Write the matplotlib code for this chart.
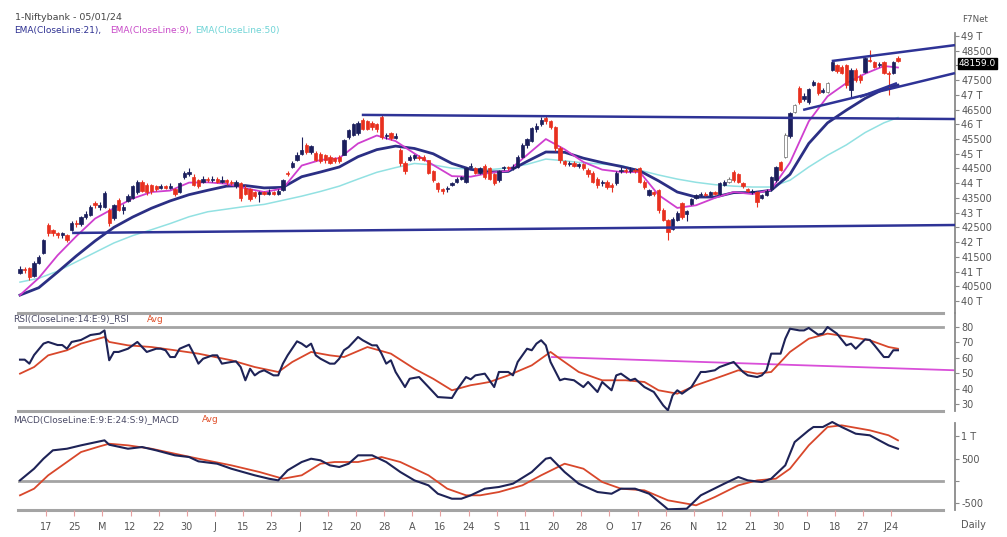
import numpy as np
import matplotlib
matplotlib.use("Agg")
import matplotlib.pyplot as plt

plt.rcParams['font.family'] = ['DejaVu Sans']

# ------------------------------------------------------------------ data
opens = [40950, 41080, 41120, 40850, 41300, 41630, 42580, 42400, 42300, 42250,
         42240, 42400, 42650, 42600, 42850, 42920, 43330, 43200, 43190, 43090,
         42820, 43430, 43100, 43400, 43500, 43700, 44040, 43950, 43950, 43900,
         43850, 43900, 43850, 43800, 43700, 44200, 44300, 44210, 44100, 44050,
         44150, 44100, 44150, 44050, 44100, 44050, 43900, 44000, 43850, 43800,
         43700, 43650, 43700, 43650, 43700, 43650, 43770, 44350, 44550, 44800,
         45000, 45300, 45050, 45030, 45000, 44950, 44900, 44850, 44900, 44960,
         45570, 45650, 45700, 46150, 46100, 46050, 46000, 46250, 45600, 45700,
         45550, 45130, 44700, 44800, 44850, 44900, 44900, 44790, 44400, 44000,
         43800, 43800, 43950, 44050, 44150, 44040, 44550, 44500, 44350, 44600,
         44500, 44300, 44100, 44500, 44550, 44500, 44550, 44900, 45300, 45450,
         45850, 46000, 46200, 46100, 45900, 45200, 44750, 44650, 44700, 44600,
         44650, 44450, 44350, 44150, 44000, 44050, 43950, 44000, 44400, 44450,
         44400, 44450, 44520, 44050, 43600, 43700, 43770, 43100, 42750, 42450,
         42750, 43330, 42950, 43300, 43500, 43600, 43650, 43600, 43700, 43650,
         43950, 44050, 44380, 44300, 44000, 43800, 43700, 43700, 43500, 43600,
         43800, 44100, 44720, 44900, 45600, 46420, 47230, 46850, 46760, 47350,
         47400, 47100, 47100, 47850, 48000, 47950, 48000, 47170, 47850, 47650,
         47780, 48200, 48100, 48000, 48120, 47750, 47750, 48250]
highs = [41200, 41150, 41150, 41350, 41560, 42120, 42650, 42450, 42350, 42350,
         42280, 42700, 42750, 42900, 43050, 43250, 43400, 43350, 43720, 43150,
         43300, 43500, 43300, 43650, 43950, 44100, 44100, 44000, 43980, 43950,
         43980, 43950, 44000, 43850, 44050, 44400, 44500, 44300, 44150, 44250,
         44200, 44250, 44200, 44250, 44150, 44100, 44100, 44050, 43950, 43850,
         43750, 43750, 43750, 43800, 43750, 43800, 44150, 44400, 44750, 45050,
         45570, 45350, 45300, 45100, 45050, 45000, 44950, 44900, 44950, 45500,
         45850, 46050, 46100, 46200, 46150, 46100, 46050, 46300, 45700, 45750,
         45700, 45200, 44750, 44950, 45000, 44950, 44950, 44800, 44450, 44050,
         43850, 43900, 44050, 44200, 44250, 44550, 44700, 44550, 44550, 44650,
         44550, 44350, 44450, 44600, 44600, 44650, 44950, 45350, 45550, 45900,
         46050, 46250, 46300, 46150, 45950, 45250, 44800, 44750, 44750, 44700,
         44700, 44500, 44400, 44200, 44100, 44100, 44000, 44400, 44550, 44500,
         44550, 44520, 44550, 44100, 43800, 43750, 43800, 43150, 42800, 42850,
         43050, 43350, 43100, 43500, 43650, 43700, 43700, 43750, 43750, 44050,
         44100, 44200, 44450, 44350, 44050, 43850, 43800, 43750, 43650, 43800,
         44250, 44600, 44750, 45700, 46420, 46700, 47300, 47050, 47250, 47500,
         47450, 47250, 47450, 48200, 48050, 48000, 48050, 47900, 47900, 47700,
         48300, 48520, 48150, 48100, 48150, 47800, 48150, 48330]
lows = [40900, 40950, 40720, 40820, 41250, 41600, 42200, 42200, 42150, 42150,
        42000, 42380, 42500, 42550, 42800, 42880, 43150, 43100, 43150, 42550,
        42750, 43050, 42950, 43350, 43450, 43650, 43700, 43600, 43650, 43750,
        43800, 43800, 43800, 43550, 43680, 44150, 44250, 43900, 43850, 44000,
        44050, 44050, 44000, 44000, 43950, 43950, 43850, 43400, 43600, 43400,
        43500, 43350, 43600, 43600, 43600, 43600, 43750, 44250, 44500, 44750,
        44950, 45000, 45000, 44750, 44700, 44700, 44650, 44700, 44700, 44950,
        45500, 45600, 45650, 45800, 45800, 45800, 45750, 45500, 45500, 45470,
        45500, 44600, 44300, 44750, 44800, 44800, 44750, 44300, 44050, 43700,
        43650, 43700, 43900, 44000, 44100, 44000, 44500, 44300, 44300, 44150,
        44100, 43950, 44050, 44450, 44450, 44450, 44500, 44850, 45200, 45400,
        45750, 45950, 46000, 45850, 45100, 44700, 44600, 44600, 44550, 44500,
        44450, 44200, 44000, 43850, 43900, 43800, 43700, 43950, 44350, 44350,
        44350, 44350, 44000, 43800, 43550, 43550, 43000, 42700, 42070, 42400,
        42700, 42800, 42700, 43250, 43450, 43550, 43550, 43550, 43600, 43600,
        43900, 44000, 44050, 44000, 43850, 43700, 43650, 43200, 43450, 43550,
        43750, 44050, 44400, 44850, 45550, 46400, 46700, 46800, 46700, 47300,
        47000, 47050, 47050, 47800, 47750, 47700, 47250, 46920, 47450, 47400,
        47750, 48100, 47900, 47950, 47700, 47000, 47700, 48100]
closes = [41080, 41050, 40800, 41300, 41500, 42070, 42300, 42300, 42250, 42300,
          42080, 42650, 42600, 42850, 42950, 43190, 43250, 43250, 43670, 42650,
          43260, 43090, 43200, 43550, 43900, 44040, 43750, 43700, 43750, 43800,
          43900, 43850, 43900, 43650, 44000, 44350, 44380, 43950, 43900, 44150,
          44100, 44150, 44050, 44100, 44050, 44000, 44050, 43500, 43650, 43450,
          43550, 43700, 43650, 43700, 43650, 43750, 44100, 44300, 44690, 44950,
          45130, 45060, 45250, 44800, 44750, 44800, 44700, 44750, 44750, 45470,
          45800, 46000, 46040, 45850, 45850, 45900, 45850, 45570, 45650, 45550,
          45600, 44700, 44400, 44900, 44950, 44850, 44800, 44350, 44100, 43800,
          43750, 43850, 44000, 44150, 44200, 44520, 44600, 44350, 44500, 44200,
          44150, 44000, 44400, 44550, 44500, 44550, 44900, 45300, 45500, 45870,
          45950, 46150, 46100, 45900, 45200, 44800, 44650, 44700, 44600, 44650,
          44500, 44300, 44050, 43950, 44050, 43870, 43870, 44350, 44450, 44400,
          44450, 44400, 44050, 43870, 43770, 43650, 43100, 42750, 42350, 42800,
          43000, 42850, 43050, 43450, 43600, 43650, 43600, 43700, 43650, 44000,
          44050, 44150, 44100, 44050, 43900, 43750, 43750, 43350, 43600, 43750,
          44200, 44550, 44450, 45650, 46380, 46650, 46760, 46950, 47200, 47450,
          47060, 47150, 47400, 48120, 47800, 47750, 47330, 47850, 47500, 47500,
          48250, 48150, 47950, 48050, 47740, 47700, 48120, 48159]
hollow_bars = [151, 163, 165, 172]
last_price = 48159.0

ema_bars = list(range(0, 185, 4)) + [187]
ema21 = [40200, 40450, 40980, 41530, 42040, 42500, 42850, 43150, 43400, 43610,
         43760, 43900, 43920, 43840, 43860, 44220, 44380, 44550, 44900, 45140,
         45260, 45180, 45000, 44670, 44470, 44380, 44400, 44740, 45060, 45050,
         44850, 44700, 44570, 44420, 44080, 43700, 43530, 43530, 43680, 43680,
         43760, 44300, 45350, 46050, 46480, 46880, 47200, 47330]
ema9 = [40200, 40780, 41550, 42200, 42800, 43150, 43480, 43700, 43750, 44020,
        44030, 43980, 43830, 43700, 43820, 44600, 44790, 44850, 45350, 45620,
        45430, 45010, 44620, 44240, 44220, 44350, 44420, 44960, 45500, 45150,
        44720, 44460, 44380, 44380, 43600, 43160, 43250, 43500, 43700, 43630,
        43780, 44700, 46100, 46950, 47400, 47720, 47980, 47930]
ema50 = [40640, 40770, 41010, 41330, 41650, 41970, 42220, 42420, 42630, 42860,
         43030, 43120, 43210, 43280, 43420, 43560, 43720, 43900, 44140, 44370,
         44530, 44670, 44620, 44510, 44480, 44460, 44520, 44640, 44820, 44760,
         44690, 44650, 44600, 44440, 44280, 44140, 44030, 43950, 43900, 43870,
         43870, 44100, 44550, 44950, 45300, 45720, 46050, 46230]

# drawn trend lines (bar index, price)
support_bars, support_vals = [11.1, 199.15], [42310, 42580]
resist_bars, resist_vals = [72.8, 199.15], [46320, 46180]
chan_top_bars, chan_top_vals = [172.9, 199.15], [48150, 48690]
chan_bot_bars, chan_bot_vals = [166.8, 199.15], [46490, 47740]
chan_mid_bars, chan_mid_vals = [178.9, 186.8], [46930, 47400]

date_labels = ["17", "25", "M", "12", "22", "30", "J", "15", "23", "J", "12",
               "20", "28", "A", "16", "24", "S", "11", "20", "28", "O", "17",
               "26", "N", "12", "21", "30", "D", "18", "27", "J24"]

rsi_bars = [0, 1, 2, 3, 5, 6, 8, 9, 10, 11, 13, 15, 17, 18, 19, 20, 21, 23, 25, 26,
            27, 29, 30, 31, 32, 33, 34, 36, 37, 38, 39, 41, 42, 43, 45, 46, 47, 48, 49, 50,
            51, 52, 54, 55, 56, 57, 59, 60, 61, 62, 63, 64, 66, 67, 68, 69, 70, 72, 73, 75,
            76, 77, 78, 79, 80, 82, 83, 85, 86, 88, 89, 92, 93, 95, 96, 97, 99, 100, 101, 102,
            104, 105, 106, 108, 109, 110, 111, 112, 113, 115, 116, 118, 120, 121, 123, 124, 126, 127, 128, 130,
            131, 133, 135, 136, 137, 138, 139, 140, 141, 143, 145, 146, 148, 149, 151, 152, 153, 154, 155, 157,
            158, 159, 160, 162, 163, 164, 166, 167, 168, 170, 171, 172, 174, 176, 177, 178, 180, 181, 182, 184,
            185, 186, 187]
rsi_vals = [58.8, 58.8, 56.2, 61.8, 69.2, 70.3, 68.3, 68.3, 65.9, 70.3, 71.6, 74.8, 75.7, 77.8, 58.4, 63.8, 63.8, 65.9, 70.3, 67.0,
            63.8, 65.9, 65.9, 64.9, 60.5, 60.5, 65.9, 68.5, 62.7, 56.2, 59.4, 61.6, 61.6, 56.2, 57.3, 57.7, 54.0, 45.4, 52.9, 48.6,
            50.8, 51.9, 48.6, 48.6, 56.2, 61.6, 70.7, 69.2, 67.0, 69.2, 61.6, 59.4, 56.2, 56.2, 59.4, 64.9, 67.0, 73.5, 71.4, 68.1,
            68.1, 62.7, 56.2, 58.4, 50.8, 41.0, 46.4, 47.5, 44.3, 37.8, 34.5, 33.9, 38.9, 47.5, 46.0, 48.6, 49.7, 45.4, 41.0, 50.8,
            50.8, 48.6, 57.3, 65.9, 64.9, 69.2, 71.4, 68.1, 57.3, 45.4, 46.4, 45.4, 41.0, 44.3, 37.8, 44.3, 38.9, 48.6, 49.7, 45.4,
            46.4, 41.0, 37.8, 33.4, 29.1, 25.9, 35.6, 38.9, 36.7, 41.0, 50.8, 50.8, 51.9, 54.0, 56.2, 57.3, 54.0, 50.8, 48.6, 47.5,
            48.6, 51.9, 62.7, 62.7, 72.4, 78.9, 77.8, 77.8, 79.4, 75.0, 75.7, 80.0, 75.7, 68.1, 69.2, 65.9, 72.0, 71.6, 68.1, 60.5,
            60.5, 64.9, 64.9]
rsi_avg_bars = [0, 3, 6, 10, 13, 18, 19, 23, 28, 33, 38, 45, 50, 55, 58, 62, 66, 69, 74, 79,
                84, 88, 92, 96, 98, 100, 104, 109, 113, 115, 119, 124, 129, 133, 136, 140, 144, 150, 153, 157,
                160, 164, 168, 172, 177, 181, 185, 187]
rsi_avg_vals = [49.7, 54.0, 61.6, 64.9, 69.2, 73.5, 70.3, 68.1, 67.0, 64.9, 62.7, 58.4, 54.0, 50.8, 57.3, 63.8, 61.6, 60.5, 67.0, 62.7,
                52.9, 46.4, 38.9, 42.2, 43.2, 44.3, 48.6, 55.1, 63.8, 59.4, 50.8, 45.4, 45.4, 44.3, 38.9, 36.7, 42.2, 48.6, 51.9, 49.7,
                50.8, 63.8, 72.4, 75.7, 73.5, 71.4, 67.0, 65.9]
rsi_trend_bars, rsi_trend_vals = [113.3, 199.15], [60.5, 51.9]

macd_bars = [0, 3, 5, 7, 10, 13, 17, 18, 19, 23, 26, 29, 33, 36, 38, 42, 45, 50, 53, 55,
             57, 60, 62, 64, 66, 68, 70, 72, 75, 78, 81, 84, 87, 89, 92, 94, 96, 99, 102, 105,
             109, 112, 113, 116, 119, 123, 126, 128, 131, 134, 137, 138, 142, 145, 150, 153, 155, 158, 160, 163,
             165, 168, 169, 171, 173, 175, 178, 181, 183, 185, 187]
macd_vals = [15, 276, 500, 688, 724, 800, 890, 912, 814, 724, 762, 688, 576, 538, 441, 388, 276, 128, 52, 15,
             240, 426, 500, 464, 352, 314, 388, 576, 576, 426, 202, 15, -97, -285, -397, -397, -321, -172, -134, -60,
             202, 500, 522, 202, -60, -247, -285, -172, -172, -285, -545, -635, -621, -321, -60, 90, 15, -22, 52, 352,
             874, 1137, 1211, 1211, 1323, 1211, 1061, 1025, 912, 800, 724]
macd_sig_bars = [0, 3, 6, 10, 13, 17, 19, 23, 28, 33, 38, 45, 51, 56, 60, 64, 67, 72, 77, 81,
                 87, 91, 95, 98, 102, 107, 111, 116, 120, 124, 128, 133, 138, 144, 148, 153, 157, 161, 164, 168,
                 172, 175, 181, 185, 187]
macd_sig_vals = [-321, -172, 128, 426, 650, 778, 836, 800, 724, 612, 500, 352, 202, 52, 128, 388, 426, 426, 538, 426,
                 128, -172, -321, -321, -247, -97, 128, 388, 276, -22, -172, -209, -433, -545, -359, -97, 15, 52, 276, 800,
                 1211, 1249, 1137, 1025, 912]

assert len(opens) == len(highs) == len(lows) == len(closes)
assert len(ema_bars) == len(ema21) == len(ema9) == len(ema50)
assert len(rsi_bars) == len(rsi_vals) and len(rsi_avg_bars) == len(rsi_avg_vals)
assert len(macd_bars) == len(macd_vals) and len(macd_sig_bars) == len(macd_sig_vals)

# ------------------------------------------------------------------ layout
W, H = 1007, 537
fig = plt.figure(figsize=(W / 100, H / 100), dpi=100)
fig.patch.set_facecolor('white')


def px_rect(l, t, r, b):
    return [l / W, 1 - b / H, (r - l) / W, (b - t) / H]


BAR0_PX, BAR_STEP_PX = 20.0, 4.695
XL, XR = 18, 955
xlim = ((XL - BAR0_PX) / BAR_STEP_PX, (XR - BAR0_PX) / BAR_STEP_PX)
line_frac = (943 - XL) / (XR - XL)

ax_p = fig.add_axes(px_rect(XL, 33, XR, 313))
ax_r = fig.add_axes(px_rect(XL, 313, XR, 411))
ax_m = fig.add_axes(px_rect(XL, 411, XR, 510))

GRID = '#a4a4a4'
SPINE = '#8a8a8a'
TXT = '#555555'


def style(ax):
    ax.set_xlim(*xlim)
    for s in ['top', 'left', 'bottom']:
        ax.spines[s].set_visible(False)
    ax.spines['right'].set_color(SPINE)
    ax.spines['right'].set_linewidth(1.3)
    ax.yaxis.tick_right()
    ax.tick_params(axis='y', direction='out', length=3, width=0.8, colors=SPINE,
                   labelcolor=TXT, labelsize=7, pad=1.5)
    ax.tick_params(axis='x', bottom=False, labelbottom=False)
    ax.set_facecolor('none')


for a in (ax_p, ax_r, ax_m):
    style(a)

# ------------------------------------------------------------------ price panel
P_LO, P_HI = 39591, 49102
ax_p.set_ylim(P_LO, P_HI)
o = np.array(opens, float); h = np.array(highs, float)
l = np.array(lows, float); c = np.array(closes, float)
x = np.arange(len(c))
RED, DARK = '#e8301f', '#1b1f5c'
face, edge, wick = [], [], []
for i in range(len(c)):
    if i in hollow_bars:
        face.append('white'); edge.append('#707070'); wick.append('#707070')
    elif c[i] >= o[i]:
        face.append(DARK); edge.append(DARK); wick.append(DARK)
    else:
        face.append(RED); edge.append(RED); wick.append(RED)

ax_p.plot(ema_bars, ema50, color='#92e1e2', lw=1.1, zorder=2)
ax_p.plot(ema_bars, ema21, color='#2b2f84', lw=2.0, zorder=2)
ax_p.plot(ema_bars, ema9, color='#cf3fcf', lw=1.3, zorder=2)

ax_p.vlines(x, l, h, colors=wick, lw=0.8, zorder=3)
body_lo = np.minimum(o, c)
body_h = np.maximum(np.abs(c - o), 18)
ax_p.bar(x, body_h, bottom=body_lo, width=0.7, color=face, edgecolor=edge,
         linewidth=0.5, zorder=4)

TREND = '#2e3396'
for bx, by in [(support_bars, support_vals), (resist_bars, resist_vals),
               (chan_top_bars, chan_top_vals), (chan_bot_bars, chan_bot_vals),
               (chan_mid_bars, chan_mid_vals)]:
    ax_p.plot(bx, by, color=TREND, lw=1.8, zorder=6, clip_on=False,
              solid_capstyle='butt')

price_ticks = list(range(40000, 49001, 500))
ax_p.set_yticks(price_ticks)
# the 48 T label sits under the last-price box, as in the reference
ax_p.set_yticklabels(['' if v == 48000 else (f"{v // 1000} T" if v % 1000 == 0 else f"{v}")
                      for v in price_ticks])
ax_p.axhline(P_LO, xmax=line_frac, color=GRID, lw=2.2, clip_on=False, zorder=1)

# ------------------------------------------------------------------ RSI panel
R_LO, R_HI = 25.45, 89.1
ax_r.set_ylim(R_LO, R_HI)
ax_r.axhline(80, xmax=line_frac, color=GRID, lw=2.0, zorder=1)
ax_r.axhline(R_LO, xmax=line_frac, color=GRID, lw=2.2, clip_on=False, zorder=1)
ax_r.plot(rsi_trend_bars, rsi_trend_vals, color='#d94fd9', lw=1.3, zorder=2)
ax_r.plot(rsi_avg_bars, rsi_avg_vals, color='#d8472b', lw=1.3, zorder=3)
ax_r.plot(rsi_bars, rsi_vals, color='#1e2357', lw=1.5, zorder=4)
ax_r.set_yticks([30, 40, 50, 60, 70, 80])

# ------------------------------------------------------------------ MACD panel
M_LO, M_HI = -650, 1570
ax_m.set_ylim(M_LO, M_HI)
ax_m.spines['right'].set_bounds(M_LO, 1300)
ax_m.axhline(0, xmax=line_frac, color=GRID, lw=2.0, zorder=1)
ax_m.axhline(M_LO, xmax=line_frac, color=GRID, lw=2.2, clip_on=False, zorder=1)
ax_m.plot(macd_sig_bars, macd_sig_vals, color='#d8472b', lw=1.3, zorder=3)
ax_m.plot(macd_bars, macd_vals, color='#1e2357', lw=1.5, zorder=4)
ax_m.set_yticks([-500, 0, 500, 1000])
ax_m.set_yticklabels(['-500', '', '500', '1 T'])

tick_pos = 5.54 + 6 * np.arange(len(date_labels))
ax_m.set_xticks(tick_pos)
ax_m.set_xticklabels(date_labels)
ax_m.tick_params(axis='x', bottom=True, labelbottom=True, direction='out',
                 length=4, width=0.8, colors='#e6a0a0', labelcolor=TXT,
                 labelsize=7, pad=5)

# ------------------------------------------------------------------ texts
def ftext(px, py, s, **kw):
    fig.text(px / W, 1 - py / H, s, va='center', **kw)


ftext(15, 18, "1-Niftybank - 05/01/24", fontsize=6.8, color='#444444')
ftext(14, 31, "EMA(CloseLine:21),", fontsize=6.5, color='#2e3192')
ftext(110, 31, "EMA(CloseLine:9),", fontsize=6.5, color='#c84ac8')
ftext(195, 31, "EMA(CloseLine:50)", fontsize=6.5, color='#6fd4d6')
ftext(975, 19, "F7Net", fontsize=6.3, color='#555555', ha='center')
ftext(13, 319, "RSI(CloseLine:14:E:9)_RSI", fontsize=6.5, color='#4a4a66')
ftext(147, 319, "Avg", fontsize=6.5, color='#e0502a')
ftext(13, 420, "MACD(CloseLine:E:9:E:24:S:9)_MACD", fontsize=6.5, color='#4a4a66')
ftext(202, 420, "Avg", fontsize=6.5, color='#e0502a')
ftext(973, 525, "Daily", fontsize=7, color=TXT, ha='center')
ftext(959, 63.5, f"{last_price:.1f}", fontsize=6.5, color='white', ha='left',
      bbox=dict(boxstyle='square,pad=0.12', fc='black', ec='black'))

fig.savefig("out.png", dpi=100, facecolor='white')
